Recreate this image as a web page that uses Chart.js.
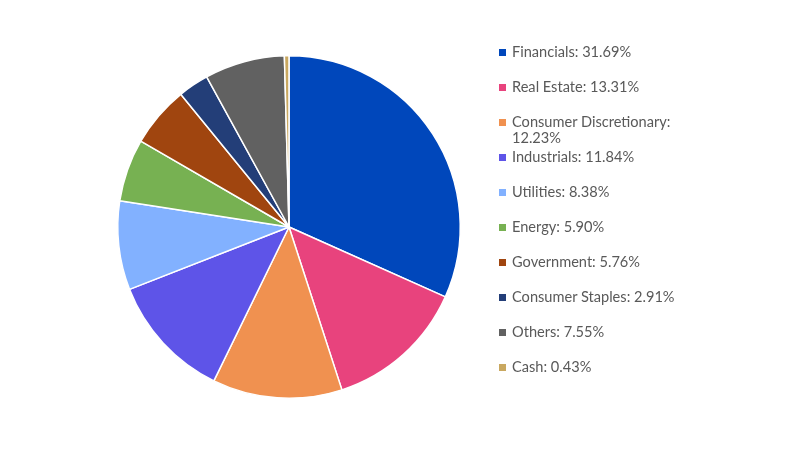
<!DOCTYPE html>
<html><head><meta charset="utf-8">
<script src="https://cdn.jsdelivr.net/npm/chart.js@4/dist/chart.umd.min.js"></script>
<style>
html,body{margin:0;padding:0;background:#fff;}
#wrap{position:relative;width:800px;height:450px;}
#legend{position:absolute;left:498px;top:44px;font-family:Lato,"Open Sans",sans-serif;font-size:14.6px;color:#595959;}
.item{position:relative;height:35px;}
.sw{position:absolute;left:1px;top:5px;width:7px;height:7px;}
.tx{position:absolute;left:14px;top:0;width:180px;line-height:16px;}
</style></head>
<body><div id="wrap"><canvas id="c" width="800" height="450"></canvas><div id="legend"></div></div>
<script>
const categories = ["Financials","Real Estate","Consumer Discretionary","Industrials","Utilities","Energy","Government","Consumer Staples","Others","Cash"];
const values = [31.69,13.31,12.23,11.84,8.38,5.90,5.76,2.91,7.55,0.43];
const colors = ["#0047BB","#E8437D","#F09150","#5E54E8","#82B1FF","#77B152","#A0450F","#233E78","#616161","#C9A860"];

const chart = new Chart(document.getElementById('c'), {
  type:'pie',
  data:{labels:categories,datasets:[{data:values,backgroundColor:colors,borderColor:'#fff',borderWidth:1.5}]},
  options:{
    responsive:false,animation:false,
    layout:{padding:{left:117,right:339,top:55,bottom:51}},
    plugins:{legend:{display:false},tooltip:{enabled:false}}
  }
});
const lg=document.getElementById('legend');
categories.forEach((c,i)=>{
  const d=document.createElement('div');d.className='item';
  d.innerHTML='<span class="sw" style="background:'+colors[i]+'"></span><span class="tx">'+c+': '+values[i].toFixed(2)+'%</span>';
  lg.appendChild(d);
});
</script></body></html>
